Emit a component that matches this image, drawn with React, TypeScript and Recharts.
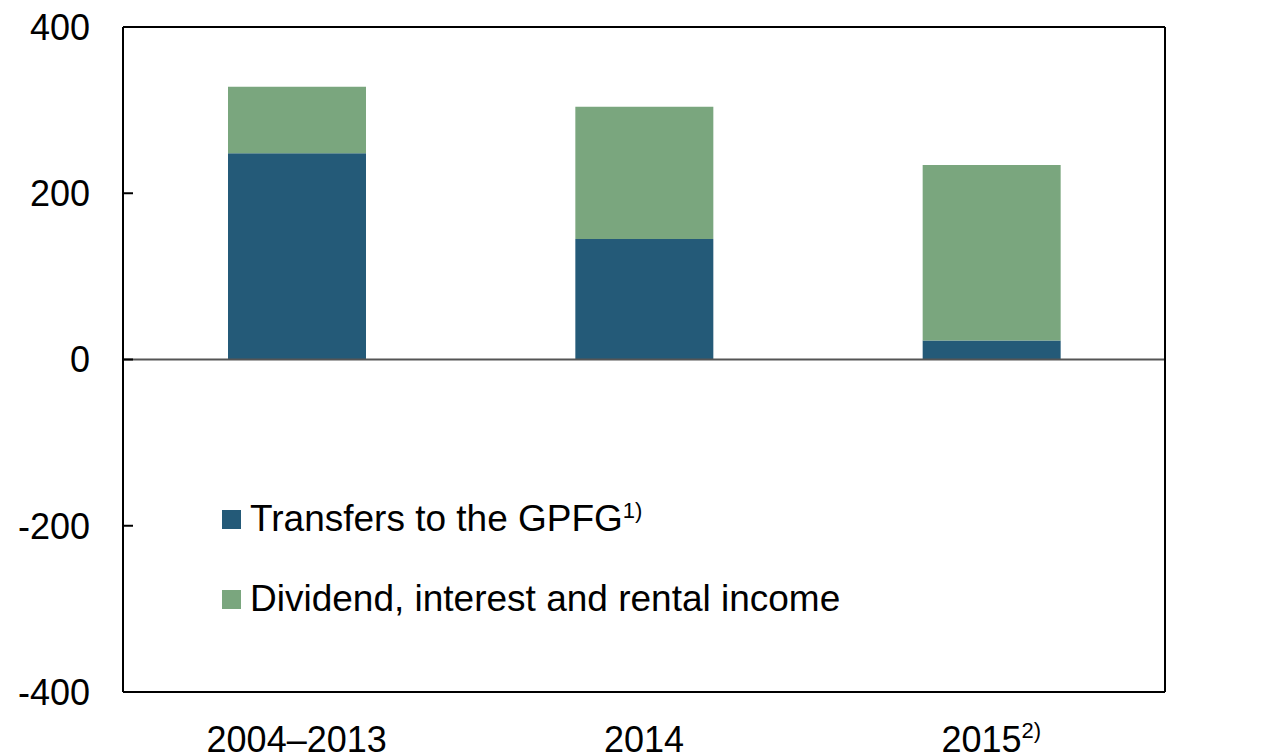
import { BarChart, Bar, XAxis, YAxis, ReferenceLine, Legend } from 'recharts'

const periods = ['2004–2013', '2014', '2015']
const periodNotes = ['', '', '2)']
const transfers = [248, 145, 23]
const returns = [80, 159, 211]
const yTicks = [-400, -200, 0, 200, 400]

const BLUE = '#245a78'
const GREEN = '#7aa67e'
const FONT = '"Liberation Sans", Arial, sans-serif'

const data = periods.map((p, i) => ({
  period: p,
  note: periodNotes[i],
  transfers: transfers[i],
  returns: returns[i],
}))

const PLOT_LEFT = 123
const PLOT_RIGHT = 1165

function LeftTick({ y, payload }: any) {
  return (
    <g>
      <line x1={PLOT_LEFT} x2={PLOT_LEFT + 10} y1={y} y2={y} stroke="#000" strokeWidth={2} />
      <text x={90} y={y} dy="0.36em" textAnchor="end" fontSize={36} fontFamily={FONT} fill="#000">
        {payload.value}
      </text>
    </g>
  )
}

function RightTick({ y, payload }: any) {
  return (
    <g>
      <line x1={PLOT_RIGHT - 10} x2={PLOT_RIGHT} y1={y} y2={y} stroke="#000" strokeWidth={2} />
      <text x={1197} y={y} dy="0.36em" textAnchor="start" fontSize={36} fontFamily={FONT} fill="#000">
        {payload.value}
      </text>
    </g>
  )
}

function PeriodTick({ x, y, payload, index }: any) {
  const note = periodNotes[index] || ''
  return (
    <text x={x} y={y + 52} textAnchor="middle" fontSize={36} fontFamily={FONT} fill="#000">
      {payload.value}
      {note && (
        <tspan fontSize={22} dy={-14}>
          {note}
        </tspan>
      )}
    </text>
  )
}

const legendItems = [
  { label: 'Transfers to the GPFG', note: '1)', color: BLUE },
  { label: 'Dividend, interest and rental income', note: '', color: GREEN },
]

function LegendBox() {
  return (
    <div style={{ fontFamily: FONT, fontSize: 37, color: '#000' }}>
      {legendItems.map((it) => (
        <div key={it.label} style={{ display: 'flex', alignItems: 'center', height: 80 }}>
          <span style={{ width: 19, height: 19, background: it.color, marginRight: 9, display: 'inline-block' }} />
          <span>
            {it.label}
            {it.note && <sup style={{ fontSize: 22 }}>{it.note}</sup>}
          </span>
        </div>
      ))}
    </div>
  )
}

export default function App() {
  return (
    <div style={{ position: 'absolute', left: 0, top: 0 }}>
      <BarChart
        width={1277}
        height={756}
        data={data}
        margin={{ top: 27, right: 0, bottom: 0, left: 0 }}
        barSize={138}
      >
        <XAxis
          dataKey="period"
          axisLine={{ stroke: '#000', strokeWidth: 2 }}
          tickLine={false}
          tick={<PeriodTick />}
          height={64}
          interval={0}
        />
        <YAxis
          yAxisId="left"
          width={PLOT_LEFT}
          domain={[-400, 400]}
          ticks={yTicks}
          axisLine={{ stroke: '#000', strokeWidth: 2 }}
          tickLine={false}
          tick={<LeftTick />}
        />
        <YAxis
          yAxisId="right"
          orientation="right"
          width={1277 - PLOT_RIGHT}
          domain={[-400, 400]}
          ticks={yTicks}
          axisLine={{ stroke: '#000', strokeWidth: 2 }}
          tickLine={false}
          tick={<RightTick />}
        />
        <Bar yAxisId="left" dataKey="transfers" stackId="a" fill={BLUE} isAnimationActive={false} />
        <Bar yAxisId="left" dataKey="returns" stackId="a" fill={GREEN} isAnimationActive={false} />
        <ReferenceLine yAxisId="left" y={0} stroke="#555" strokeWidth={2} />
        <ReferenceLine yAxisId="left" y={400} stroke="#000" strokeWidth={2} />
        <Legend
          content={<LegendBox />}
          layout="vertical"
          align="center"
          verticalAlign="middle"
          wrapperStyle={{ left: 222, top: 479, width: 'auto' }}
        />
      </BarChart>
    </div>
  )
}
